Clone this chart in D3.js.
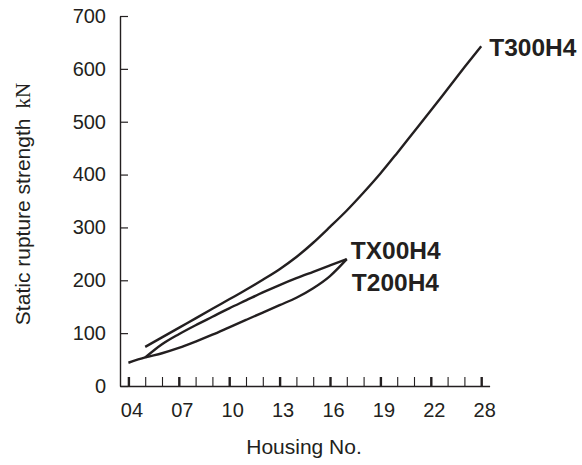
<!DOCTYPE html>
<html>
<head>
<meta charset="utf-8">
<script src="https://cdn.jsdelivr.net/npm/d3@7/dist/d3.min.js"></script>
<style>
  html, body { margin: 0; padding: 0; background: #fff; }
  svg { display: block; }
</style>
</head>
<body>
<svg id="chart" width="582" height="465"></svg>
<script>
// Housing positions on the axis (evenly spaced; the last position is labelled "28")
const housingPos = [4,5,6,7,8,9,10,11,12,13,14,15,16,17,18,19,20,21,22,23,24,25];
const majorTickPos = [4,7,10,13,16,19,22,25];
const majorTickLabels = ["04","07","10","13","16","19","22","28"];
const yTicks = [0,100,200,300,400,500,600,700];

// Series (x = housing position, y = kN)
const t300X = [5,6,7,8,9,10,11,12,13,14,15,16,17,18,19,20,21,22,23,24,25];
const t300Y = [74,92,110,128,146,164,182,201,221,244,271,301,332,366,402,441,481,521,562,603,643];

const tx00X = [5,6,7,8,9,10,11,12,13,14,15,16,17];
const tx00Y = [54,79,98,115,131,147,162,177,191,204,216,228,240];

const t200X = [4,5,6,7,8,9,10,11,12,13,14,15,16,17];
const t200Y = [44,54,62,72,84,97,111,125,139,153,167,185,208,240];

const seriesNames = ["T300H4","TX00H4","T200H4"];

const ink = "#231f20";
const svg = d3.select("#chart");

const x = d3.scaleLinear().domain([3.5, 25.5]).range([120, 489.6]);
const y = d3.scaleLinear().domain([0, 700]).range([386, 16]);

// X axis
const xAxis = d3.axisBottom(x)
  .tickValues(housingPos)
  .tickSize(-9)
  .tickPadding(17)
  .tickSizeOuter(0)
  .tickFormat(d => {
    const k = majorTickPos.indexOf(d);
    return k >= 0 ? majorTickLabels[k] : "";
  });
const gx = svg.append("g").attr("transform", `translate(0,${y(0)})`).call(xAxis);
gx.select(".domain").attr("stroke", ink).attr("stroke-width", 1.4);
gx.selectAll(".tick line")
  .attr("stroke", ink)
  .attr("stroke-width", d => majorTickPos.includes(d) ? 2.4 : 1.1);
gx.selectAll(".tick text")
  .attr("fill", ink)
  .attr("dx", 3)
  .style("font-family", "'Liberation Sans', Arial, sans-serif")
  .style("font-size", "20px");

// Y axis
const yAxis = d3.axisLeft(y)
  .tickValues(yTicks)
  .tickSize(-8)
  .tickPadding(14)
  .tickSizeOuter(0);
const gy = svg.append("g").attr("transform", `translate(${x(3.5)},0)`).call(yAxis);
gy.select(".domain").attr("stroke", ink).attr("stroke-width", 1.4);
gy.selectAll(".tick line").attr("stroke", ink).attr("stroke-width", 1.2);
gy.selectAll(".tick text")
  .attr("fill", ink)
  .style("font-family", "'Liberation Sans', Arial, sans-serif")
  .style("font-size", "20px");

// Curves
const line = d3.line().x(d => x(d[0])).y(d => y(d[1])).curve(d3.curveMonotoneX);
const series = [
  d3.zip(t300X, t300Y),
  d3.zip(tx00X, tx00Y),
  d3.zip(t200X, t200Y)
];
svg.append("g").selectAll("path").data(series).join("path")
  .attr("d", line)
  .attr("fill", "none")
  .attr("stroke", ink)
  .attr("stroke-width", 2.4)
  .attr("stroke-linejoin", "round");

// Series labels
const labelPos = [
  { x: 25, y: 643, dx: 8, dy: 10 },
  { x: 17, y: 240, dx: 4, dy: 0 },
  { x: 17, y: 240, dx: 5, dy: 32 }
];
svg.append("g").selectAll("text").data(seriesNames).join("text")
  .attr("x", (d, i) => x(labelPos[i].x) + labelPos[i].dx)
  .attr("y", (d, i) => y(labelPos[i].y) + labelPos[i].dy)
  .attr("fill", ink)
  .style("font-family", "'Liberation Sans', Arial, sans-serif")
  .style("font-size", "24.5px")
  .style("font-weight", "bold")
  .text(d => d);

// Axis titles
svg.append("text")
  .attr("x", 304)
  .attr("y", 454)
  .attr("text-anchor", "middle")
  .attr("fill", ink)
  .style("font-family", "'Liberation Sans', Arial, sans-serif")
  .style("font-size", "21px")
  .text("Housing No.");

const yt = svg.append("text")
  .attr("transform", "translate(29.5,204) rotate(-90)")
  .attr("text-anchor", "middle")
  .attr("fill", ink)
  .style("font-family", "'Liberation Sans', Arial, sans-serif")
  .style("font-size", "21px");
yt.append("tspan").text("Static rupture strength");
yt.append("tspan").attr("dx", 10).style("font-family", "'Liberation Serif', 'Times New Roman', serif").text("kN");
</script>
</body>
</html>
